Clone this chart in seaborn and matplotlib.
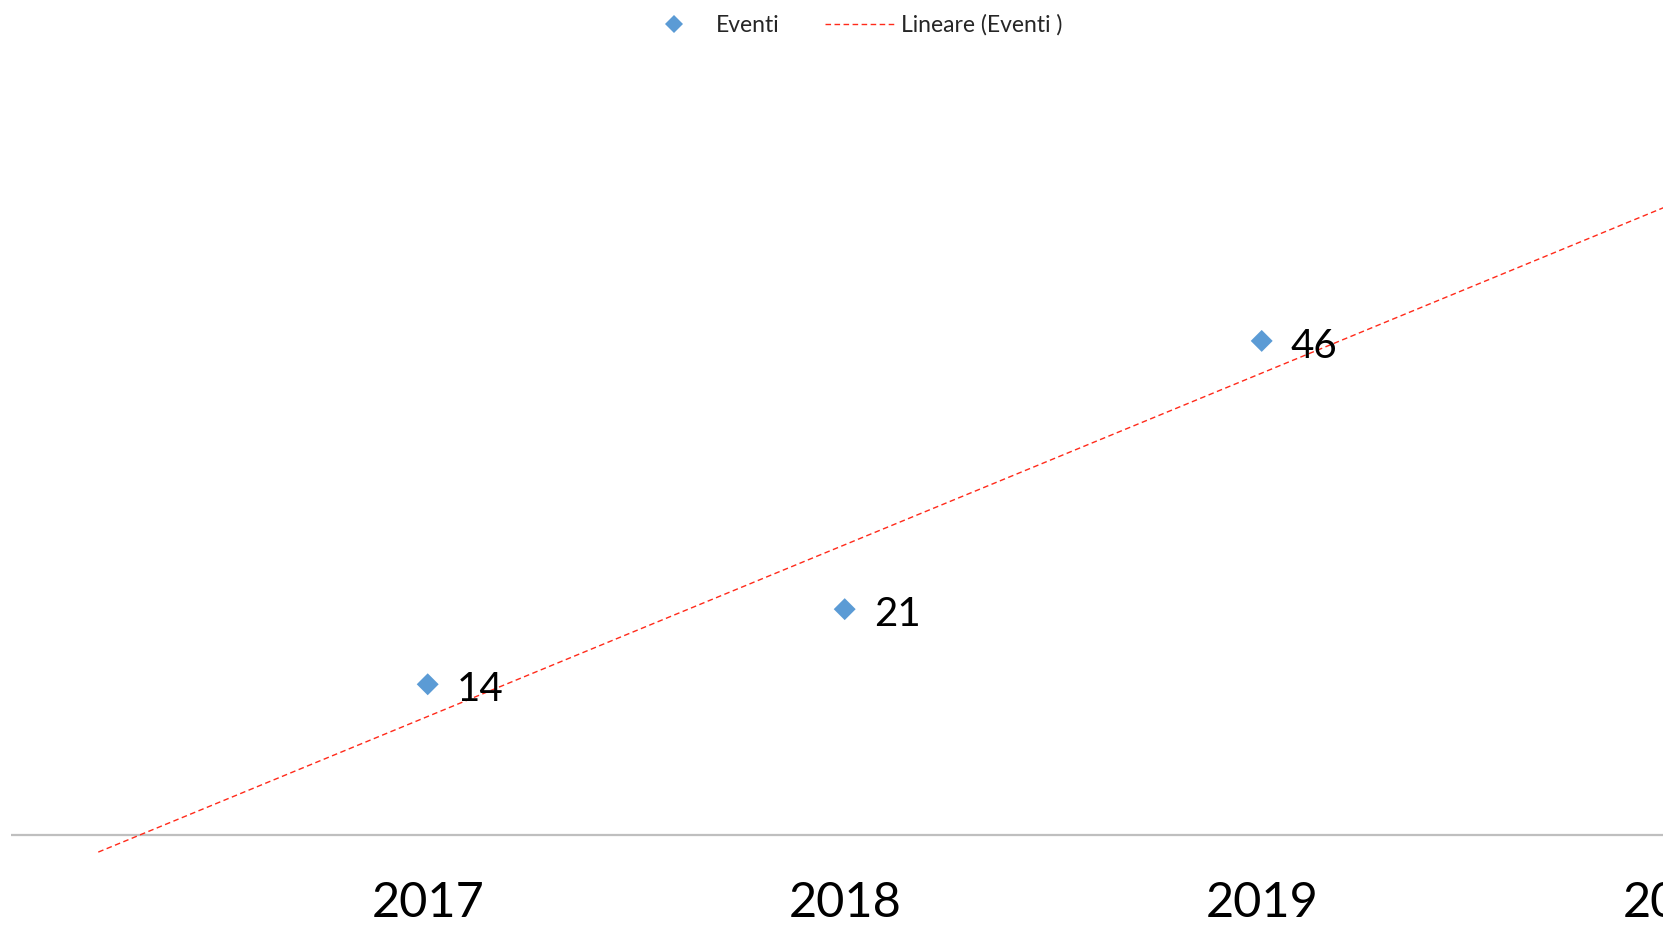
import numpy as np
import pandas as pd
import seaborn as sns
import matplotlib.pyplot as plt
from matplotlib.lines import Line2D

# chart data
years = [2017, 2018, 2019]
eventi = [14, 21, 46]
tick_years = [2017, 2018, 2019, 2020]
trend_start = 2016.21   # backward forecast of the Excel trendline

sns.set_style("white")
plt.rcParams['font.family'] = ['Lato', 'DejaVu Sans']

df = pd.DataFrame({"anno": years, "eventi": eventi})

fig = plt.figure(figsize=(16.63, 9.25), dpi=100)
W, H = 1663, 925
# px mapping: 2016 at x=10.7, 417 px per year; y=0 at 834.5 from top, 10.73 px per unit
ymin, ymax = -2.5, 75
bottom_px = (H - 834.5) + ymin * 10.73
ax = fig.add_axes([10.7 / W, bottom_px / H, 4 * 417 / W, (ymax - ymin) * 10.73 / H])

blue = '#5B9BD5'
red = '#FF2A1A'

sns.scatterplot(data=df, x="anno", y="eventi", marker='D', s=125, color=blue,
                edgecolor='none', ax=ax, zorder=3, legend=False)

# linear trendline
slope, intercept = np.polyfit(years, eventi, 1)
tx = np.array([trend_start, 2020])
ax.plot(tx, slope * tx + intercept, color=red, lw=1.0, linestyle=(0, (4, 2.5)), zorder=2)

ax.axhline(0, color='#BFBFBF', lw=1.6, zorder=1)

for x, y in zip(years, eventi):
    ax.annotate(str(y), (x, y), xytext=(21, -4), textcoords='offset points',
                ha='left', va='center', fontsize=29, color='black')

ax.set_xlim(2016, 2020)
ax.set_ylim(ymin, ymax)
ax.set_xticks(tick_years)
ax.set_xticklabels([str(t) for t in tick_years], fontsize=35, color='black')
ax.tick_params(axis='x', length=0, pad=14)
ax.set_yticks([])
ax.set_xlabel('')
ax.set_ylabel('')
for s in ax.spines.values():
    s.set_visible(False)

handles = [
    Line2D([], [], marker='D', color=blue, linestyle='none', markersize=9, markeredgewidth=0),
    Line2D([], [], color=red, lw=1.0, linestyle=(0, (4, 2.5))),
]
fig.legend(handles, ['Eventi', 'Lineare (Eventi )'], loc='center',
           bbox_to_anchor=(851 / W, 1 - 25 / H), ncol=2, frameon=False,
           fontsize=16.5, handlelength=3.0, handletextpad=0.3, columnspacing=2.0)

fig.savefig('out.png', dpi=100)
